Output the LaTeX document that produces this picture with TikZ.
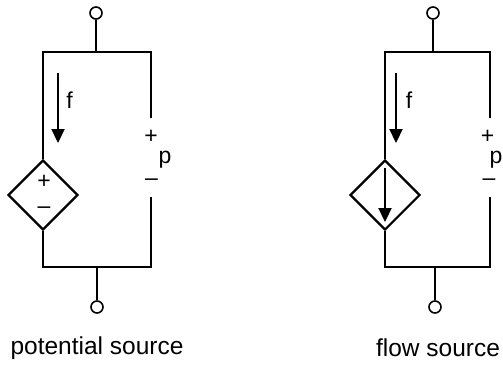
\documentclass[tikz,border=0pt]{standalone}
\usepackage{fontspec}
\setmainfont{Liberation Sans}
\usetikzlibrary{shapes.geometric,arrows.meta}

\begin{document}
\begin{tikzpicture}[x=1pt,y=-1pt,line width=2.2pt,
	terminal/.style={circle,draw,line width=1.6pt,minimum size=12pt,inner sep=0pt},
	source/.style={diamond,draw,minimum size=70pt,inner sep=0pt},
	flow/.style={-{Triangle[length=14pt,width=13pt]}},
	sign/.style={font=\fontsize{23}{27}\selectfont,inner sep=0pt},
	caption/.style={font=\fontsize{24.5}{29}\selectfont,inner sep=0pt}]
	\useasboundingbox (0,0) rectangle (503,365);

	% potential source
	\node[terminal] (pt) at (96,13) {};
	\node[terminal] (pb) at (97,307) {};
	\node[source] (ps) at (43,195) {};
	\coordinate (ptj) at (96,52);
	\coordinate (pbj) at (97,267);
	\coordinate (ptl) at (43,52);
	\coordinate (ptr) at (151,52);
	\coordinate (pbl) at (43,267);
	\coordinate (pbr) at (151,267);
	\coordinate (pgt) at (151,118);
	\coordinate (pgb) at (151,197);
	\coordinate (pfa) at (58,73);
	\coordinate (pfb) at (58,143);
	\node[sign] (pf) at (69.5,100) {f};
	\node[sign] (pplus) at (44,182) {+};
	\node[sign] (pminus) at (44,210) {\textendash};
	\node[sign] (vplus) at (151,137) {+};
	\node[sign] (vp) at (165,160) {p};
	\node[sign] (vminus) at (151.5,182) {\textendash};
	\node[caption] (pcap) at (97,348) {potential source};

	\draw (pt) -- (ptj);
	\draw (pgt) -- (ptr) -- (ptl) -- (ps.north);
	\draw (ps.south) -- (pbl) -- (pbr) -- (pgb);
	\draw (pbj) -- (pb);
	\path[flow] (pfa) edge (pfb);

	% flow source
	\node[terminal] (ft) at (433,13) {};
	\node[terminal] (fb) at (435,307) {};
	\node[source] (fs) at (385,195) {};
	\coordinate (ftj) at (433,52);
	\coordinate (fbj) at (435,267);
	\coordinate (ftl) at (385,52);
	\coordinate (ftr) at (490,52);
	\coordinate (fbl) at (385,267);
	\coordinate (fbr) at (490,267);
	\coordinate (fgt) at (490,118);
	\coordinate (fgb) at (490,197);
	\coordinate (ffa) at (396,73);
	\coordinate (ffb) at (396,143);
	\coordinate (fia) at (385,168);
	\coordinate (fib) at (385,222);
	\node[sign] (ff) at (409,100) {f};
	\node[sign] (wplus) at (487.5,137) {+};
	\node[sign] (wp) at (496,160) {p};
	\node[sign] (wminus) at (489,182) {\textendash};
	\node[caption] (fcap) at (438,348) {flow source};

	\draw (ft) -- (ftj);
	\draw (fgt) -- (ftr) -- (ftl) -- (fs.north);
	\draw (fs.south) -- (fbl) -- (fbr) -- (fgb);
	\draw (fbj) -- (fb);
	\path[flow]
		(ffa) edge (ffb)
		(fia) edge (fib)
	;
\end{tikzpicture}
\end{document}
